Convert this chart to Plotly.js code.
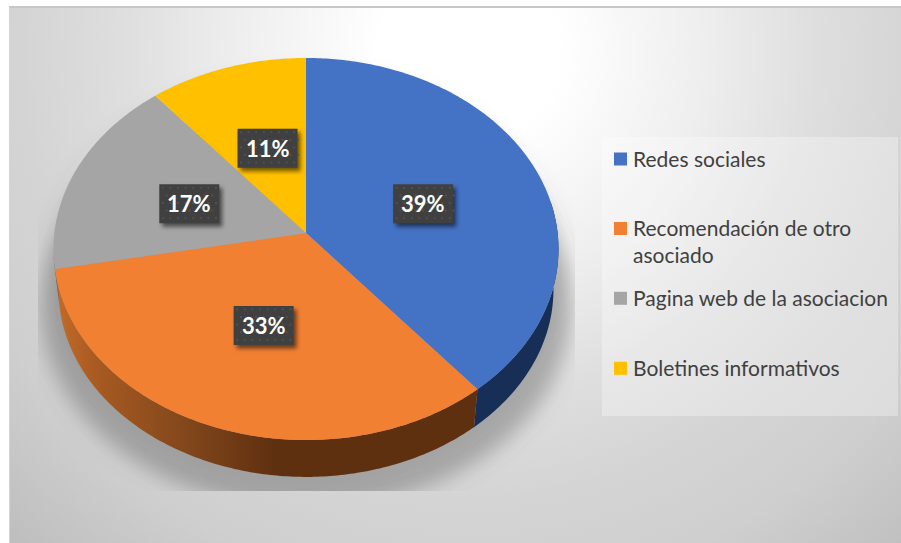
<!DOCTYPE html>
<html><head><meta charset="utf-8">
<script src="https://cdn.plot.ly/plotly-3.0.1.min.js"></script>
<style>
html,body{margin:0;padding:0;background:#fff;width:901px;height:543px;overflow:hidden}
#bg{position:absolute;left:9px;top:6px;width:892px;height:537px;box-sizing:border-box;
 border-top:2px solid #c6c6c6;border-left:1px solid #d4d4d4;
 background:radial-gradient(circle 665px at 460px 44px,#fff 0,#fff 90px,#eee 235px,#dedede 350px,#d4d4d4 450px,#cfcfcf 540px,#bfbfbf 665px)}
#chart{position:absolute;left:0;top:0;width:901px;height:543px}
</style></head><body>
<div id="bg"></div><div id="chart"></div>
<script>
const categories=['Redes sociales','Recomendación de otro<br>asociado','Pagina web de la asociacion','Boletines informativos'];
const values=[39,33,17,11];
const labels=['39%','33%','17%','11%'];
const faceColors=['#4472C4','#F28033','#A5A5A5','#FFC000'];
const sideColors=['#172E57','#5F3010','#636363','#997300'];

const W=901,H=543;
const cx=306,cy=233,a=251.6,b=189.7,k=0.0838;
function proj(u,v,s,dy){const d=1-k*v;s=s||1;dy=dy||0;return [cx+s*a*u/d, cy+dy+s*b*v/d];}
const total=values.reduce((p,c)=>p+c,0);
let acc=0;const slices=values.map(v=>{const o={t0:acc/total*2*Math.PI,t1:(acc+v)/total*2*Math.PI};acc+=v;return o;});
function arc(t0,t1,s,dy){const n=Math.max(3,Math.ceil((t1-t0)*80)),p=[];
 for(let i=0;i<=n;i++){const t=t0+(t1-t0)*i/n;p.push(proj(Math.sin(t),-Math.cos(t),s,dy));}return p;}
const S2=0.98,D2=41,sideFrom=1.4,sideTo=4.6;
const traces=[];
const base={type:'scatter',mode:'none',fill:'toself',hoverinfo:'skip',showlegend:false};
// soft shadow, on the clipped main axes so it sits under the pie and is cut by their domain
[[1.02,18,'rgba(95,95,95,0.13)'],[1.05,58,'rgba(95,95,95,0.42)']].forEach(o=>{
 const sh=arc(0,2*Math.PI,o[0],o[1]);
 traces.push(Object.assign({},base,{x:sh.map(p=>p[0]),y:sh.map(p=>p[1]),fillcolor:o[2],xaxis:'x',yaxis:'y'}));
});
const nShadow=traces.length;
// sides, only the arcs that face the viewer
slices.forEach((sl,i)=>{
 const t0=Math.max(sl.t0,sideFrom),t1=Math.min(sl.t1,sideTo);
 if(t1<=t0)return;
 const p=arc(t0,t1).concat(arc(t0,t1,S2,D2).reverse());
 const t=Object.assign({},base,{x:p.map(q=>q[0]),y:p.map(q=>q[1]),fillcolor:sideColors[i],xaxis:'x2',yaxis:'y2'});
 if(i===1){t.fillgradient={type:'horizontal',start:54,stop:478,colorscale:[[0,'#C46C2A'],[0.1,'#A85A22'],[0.3,'#84481C'],[0.52,'#5F3010'],[1,'#5F3010']]};}
 traces.push(t);
});
// faces
slices.forEach((sl,i)=>{
 const p=[proj(0,0)].concat(arc(sl.t0,sl.t1));p.push(proj(0,0));
 traces.push(Object.assign({},base,{x:p.map(q=>q[0]),y:p.map(q=>q[1]),fillcolor:faceColors[i],name:categories[i],xaxis:'x2',yaxis:'y2'}));
});
// value labels: anchored on the middle of each slice
const nudge=[[0.4,2.5],[2,-0.5],[0,2.5],[2.5,1]];
const anchors=slices.map((sl,i)=>{const t=(sl.t0+sl.t1)/2,p=proj(0.5*Math.sin(t),-0.5*Math.cos(t));return [p[0]+nudge[i][0],p[1]+nudge[i][1]];});
const bw=30,bh=19.5;
function rect(c,dx,dy){return [[c[0]-bw+dx,c[1]-bh+dy],[c[0]+bw+dx,c[1]-bh+dy],[c[0]+bw+dx,c[1]+bh+dy],[c[0]-bw+dx,c[1]+bh+dy],[c[0]-bw+dx,c[1]-bh+dy]];}
const firstLabelShadow=traces.length;
anchors.forEach(c=>{const p=rect(c,3,3.5);
 traces.push(Object.assign({},base,{x:p.map(q=>q[0]),y:p.map(q=>q[1]),fillcolor:'rgba(0,0,0,0.55)',xaxis:'x2',yaxis:'y2'}));});
anchors.forEach(c=>{const p=rect(c,0,0);
 traces.push(Object.assign({},base,{x:p.map(q=>q[0]),y:p.map(q=>q[1]),fillcolor:'#404040',xaxis:'x2',yaxis:'y2'}));});
// dotted pattern of the label boxes
const dx=[],dy=[];
anchors.forEach(c=>{for(let r=0;r<5;r++)for(let j=0;j<8;j++){dx.push(c[0]-26.5+j*7.6+(r%2?3.8:0));dy.push(c[1]-16+r*7.6);}});
traces.push({type:'scatter',mode:'markers',x:dx,y:dy,marker:{size:2,color:'#505050',symbol:'square'},hoverinfo:'skip',showlegend:false,xaxis:'x2',yaxis:'y2'});
// legend swatches
const legY=[159,228.5,298.3,368.3];
traces.push({type:'scatter',mode:'markers',x:categories.map(()=>620.5),y:legY,marker:{size:13,symbol:'square',color:faceColors,line:{width:0}},hoverinfo:'skip',showlegend:false,xaxis:'x2',yaxis:'y2'});

const ann=labels.map((t,i)=>({xref:'x2',yref:'y2',x:anchors[i][0],y:anchors[i][1],text:'<b>'+t+'</b>',showarrow:false,font:{family:'Lato',size:22,color:'#fff'},xanchor:'center',yanchor:'middle'}));
categories.forEach((t,i)=>ann.push({xref:'x2',yref:'y2',x:630.5,y:legY[i]-1+(i===1?13.5:0),text:t,showarrow:false,align:'left',xanchor:'left',yanchor:'middle',font:{family:'Lato',size:21,color:'#404040'}}));

const hidden={visible:false,fixedrange:true};
const layout={width:W,height:H,margin:{l:0,r:0,t:0,b:0},paper_bgcolor:'rgba(0,0,0,0)',plot_bgcolor:'rgba(0,0,0,0)',showlegend:false,
 xaxis:Object.assign({range:[38,575],domain:[38/W,575/W]},hidden),
 yaxis:Object.assign({range:[491,0],domain:[(H-491)/H,1]},hidden),
 xaxis2:Object.assign({range:[0,W],domain:[0,1],anchor:'y2'},hidden),
 yaxis2:Object.assign({range:[H,0],domain:[0,1],anchor:'x2'},hidden),
 shapes:[{type:'rect',xref:'x2',yref:'y2',x0:602,x1:898,y0:137,y1:416,fillcolor:'rgba(255,255,255,0.30)',line:{width:0},layer:'below'}],
 annotations:ann};
Plotly.newPlot('chart',traces,layout,{displayModeBar:false,staticPlot:true}).then(gd=>{
 const svg=gd.querySelector('.main-svg');
 const ns='http://www.w3.org/2000/svg';
 const defs=document.createElementNS(ns,'defs');
 defs.innerHTML='<filter id="sb" x="-20%" y="-20%" width="140%" height="140%"><feGaussianBlur stdDeviation="10"/></filter><filter id="lb" x="-30%" y="-30%" width="160%" height="160%"><feGaussianBlur stdDeviation="2"/></filter>';
 svg.insertBefore(defs,svg.firstChild);
 const groups=gd.querySelectorAll('.scatterlayer .trace');
 const fill=g=>g.querySelector('.js-fill');
 for(let i=0;i<nShadow;i++){if(groups[i]&&fill(groups[i]))fill(groups[i]).setAttribute('filter','url(#sb)');}
 for(let i=firstLabelShadow;i<firstLabelShadow+4;i++){if(groups[i]&&fill(groups[i]))fill(groups[i]).setAttribute('filter','url(#lb)');}
});
</script></body></html>
